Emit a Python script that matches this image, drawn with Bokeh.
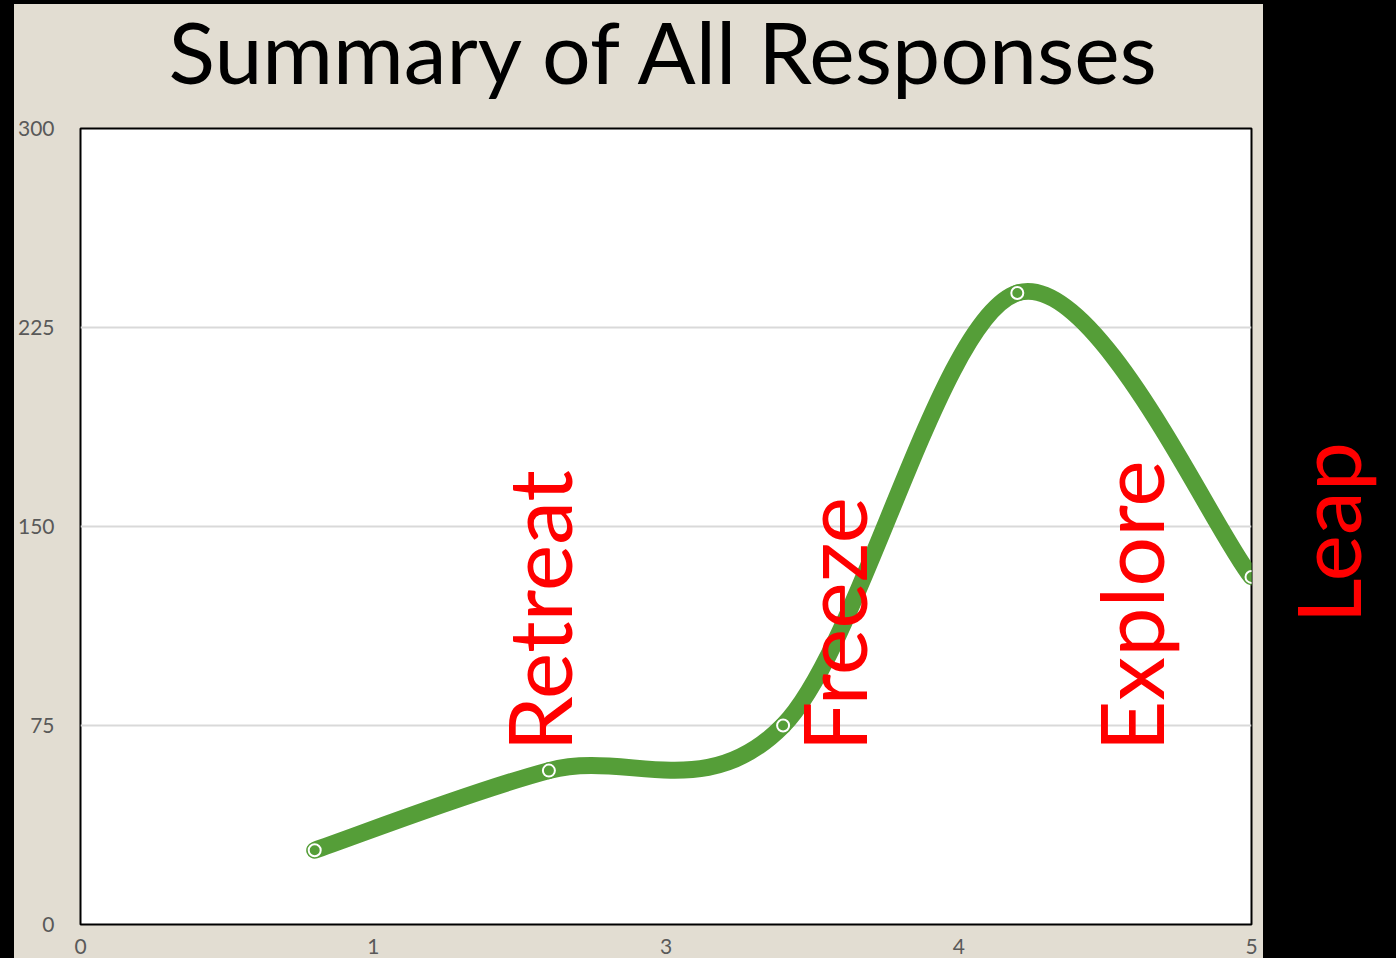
import math
from bokeh.plotting import figure
from bokeh.layouts import row, column
from bokeh.models import FixedTicker, Label, Range1d
from bokeh.embed import file_html
from bokeh.resources import INLINE

# ---- data ----
x_values = [0.8, 1.6, 2.4, 3.2, 4.0]
responses = [28, 58, 75, 238, 131]
x_tick_positions = [0, 1, 2, 3, 4]
x_tick_labels = ["0", "1", "3", "4", "5"]
y_ticks = [0, 75, 150, 225, 300]
stage_labels = ["Retreat", "Freeze", "Explore"]
outside_label = "Leap"
title_text = "Summary of All Responses"

# ---- style ----
BEIGE = "#e2ddd2"
GREEN = "#559e38"
RED = "#ff0000"
GRAY = "#595959"
FONT = "Lato"

# title strip
t = figure(width=1249, height=104, output_backend="svg", toolbar_location=None,
           x_range=Range1d(0, 1249), y_range=Range1d(0, 104),
           min_border=0, background_fill_color=None, border_fill_color=BEIGE,
           outline_line_color=None, frame_align=False)
t.axis.visible = False
t.grid.visible = False
t.add_layout(Label(x=651.5, y=58, text=title_text, text_align="center",
                   text_baseline="alphabetic", text_font=FONT, text_font_size="86px",
                   text_color="#000000"))

# main chart
p = figure(width=1249, height=850, output_backend="svg", toolbar_location=None,
           x_range=Range1d(0, 4), y_range=Range1d(0, 300),
           min_border_left=66, min_border_right=12, min_border_top=20, min_border_bottom=34,
           background_fill_color="white", border_fill_color=BEIGE,
           outline_line_color="#000000", outline_line_width=2, frame_align=False)

p.xaxis.ticker = FixedTicker(ticks=x_tick_positions)
p.xaxis.major_label_overrides = {tk: lb for tk, lb in zip(x_tick_positions, x_tick_labels)}
p.yaxis.ticker = FixedTicker(ticks=y_ticks)
for ax in (p.xaxis, p.yaxis):
    ax.axis_line_color = None
    ax.major_tick_line_color = None
    ax.minor_tick_line_color = None
    ax.major_tick_out = 0
    ax.major_tick_in = 0
    ax.minor_tick_out = 0
    ax.minor_tick_in = 0
    ax.major_label_text_font = FONT
    ax.major_label_text_font_size = "21px"
    ax.major_label_text_color = GRAY
p.yaxis.major_label_standoff = 26
p.xaxis.major_label_standoff = 14

p.xgrid.grid_line_color = None
p.ygrid.ticker = FixedTicker(ticks=y_ticks)
p.ygrid.grid_line_color = "#d9d9d9"
p.ygrid.grid_line_width = 2

# smoothed line (Catmull-Rom -> cubic Bezier segments, computed from the data)
n = len(x_values)
x0s, y0s, x1s, y1s, cx0s, cy0s, cx1s, cy1s = [], [], [], [], [], [], [], []
for i in range(n - 1):
    pm = max(i - 1, 0)
    pn = min(i + 2, n - 1)
    tx0 = (x_values[i + 1] - x_values[pm]) / 6.0
    ty0 = (responses[i + 1] - responses[pm]) / 6.0
    tx1 = (x_values[pn] - x_values[i]) / 6.0
    ty1 = (responses[pn] - responses[i]) / 6.0
    x0s.append(x_values[i]); y0s.append(responses[i])
    x1s.append(x_values[i + 1]); y1s.append(responses[i + 1])
    cx0s.append(x_values[i] + tx0); cy0s.append(responses[i] + ty0)
    cx1s.append(x_values[i + 1] - tx1); cy1s.append(responses[i + 1] - ty1)

p.bezier(x0=x0s, y0=y0s, x1=x1s, y1=y1s, cx0=cx0s, cy0=cy0s, cx1=cx1s, cy1=cy1s,
         line_color=GREEN, line_width=17, line_cap="round")
p.scatter(x_values, responses, size=12, fill_color=GREEN, line_color="white", line_width=2)

# stage labels (rotated)
label_x = [1.563, 2.57, 3.585]
for lx, txt in zip(label_x, stage_labels):
    p.add_layout(Label(x=lx, y=65.2, text=txt, angle=math.pi / 2,
                       text_align="left", text_baseline="alphabetic",
                       text_font=FONT, text_font_size="88px", text_color=RED))

# black side panel with the last label
q = figure(width=133, height=954, output_backend="svg", toolbar_location=None,
           x_range=Range1d(0, 133), y_range=Range1d(0, 954),
           min_border=0, background_fill_color="black", border_fill_color="black",
           outline_line_color=None, frame_align=False)
q.axis.visible = False
q.grid.visible = False
q.add_layout(Label(x=63, y=335, text=outside_label, angle=math.pi / 2,
                   text_align="left", text_baseline="alphabetic",
                   text_font=FONT, text_font_size="88px", text_color=RED))

layout = row(column(t, p, spacing=0, styles={"background-color": BEIGE}), q, spacing=0)

html = file_html(layout, INLINE)
css = ("<style>html,body{background:#000 !important;overflow:hidden !important;}"
       "body{margin:4px 0 0 14px !important;padding:0 !important;}</style>")
html = html.replace("</head>", css + "</head>", 1)
open("out.html", "w").write(html)
